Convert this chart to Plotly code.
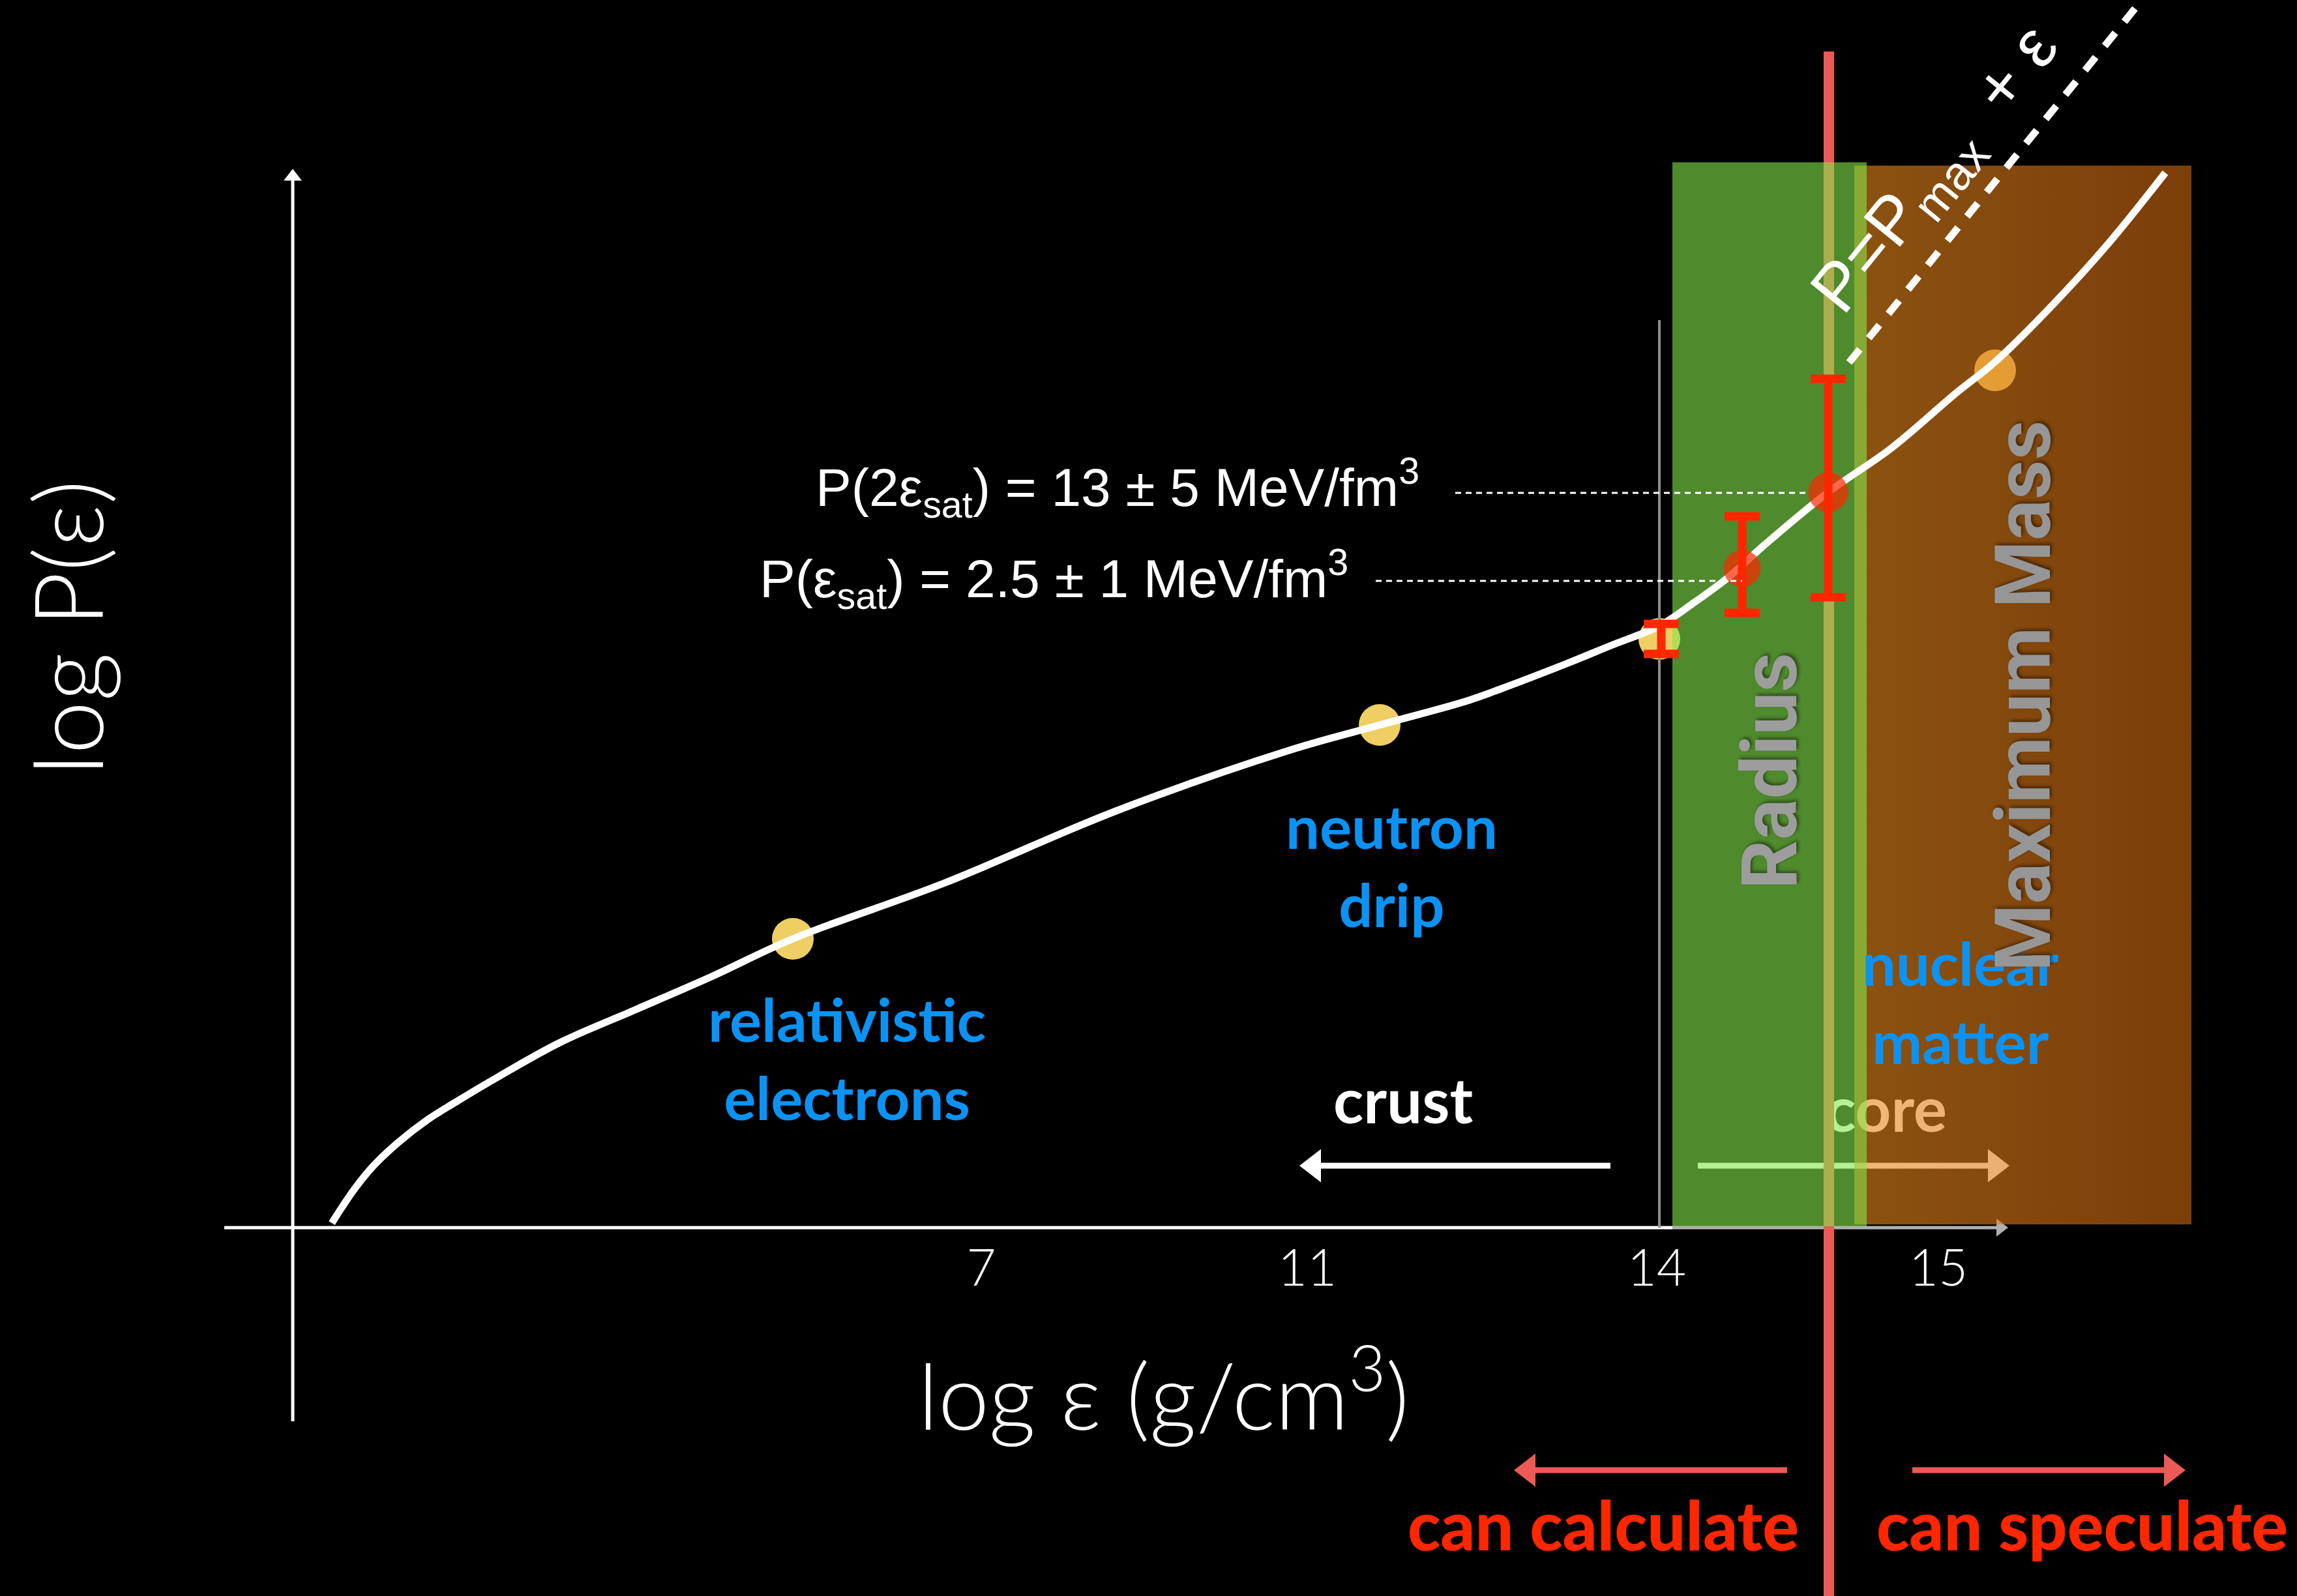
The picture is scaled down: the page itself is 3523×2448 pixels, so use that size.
import plotly.graph_objects as go

W, H = 3523, 2448

# ---- schematic data (canvas-scaled log-eps / log-P units) ----
curve_x = [509, 525, 545, 572, 610, 655, 698, 767, 859, 974, 1089, 1216, 1447, 1714, 1977, 2116,
           2247, 2301, 2400, 2471, 2545, 2600, 2649, 2706, 2804, 2900, 3000, 3060, 3146,
           3235, 3321]
curve_y = [572, 597, 626, 659, 695, 730, 757, 798, 849, 899, 949, 1008, 1093, 1205, 1297, 1336,
           1372, 1391, 1429, 1458, 1488, 1525, 1561, 1612, 1693, 1760, 1845, 1893, 1978,
           2076, 2183]

# transition points (yellow dots)
trans_x = [1216, 2116, 2545, 3060]
trans_y = [1008, 1336, 1468, 1880]

# constraints with error bars
con_x = [2548, 2672, 2804]
con_y = [1468, 1576, 1693]
con_up = [23, 80, 174]
con_dn = [23, 68, 161]
con_size = [0, 57, 61]

# x-axis ticks
tick_vals = [1505, 2005, 2541, 2973]
tick_text = ["7", "11", "14", "15"]

# regions
radius_band = [2565, 2863, 567, 2199]      # x0, x1, y0, y1
maxmass_band = [2844, 3361, 570, 2194]
boundary_x = 2805                          # calculate / speculate divide
boundary_top = 2369
crust_core_x = 2545
axis_y0 = 565
axis_x0, axis_x1 = 344, 3080
yaxis_x, yaxis_y0, yaxis_y1 = 449, 268, 2189

# guide lines
sat2_line = [2232, 2774, 1692]
sat_line = [2110, 2672, 1557]
causal_line_x = [2836, 3285]
causal_line_y = [1892, 2448]

# arrows: (tail, tip, y)
crust_arrow = [2470, 1993, 660]
core_arrow = [2604, 3082, 660]
calc_arrow = [2741, 2322, 193]
spec_arrow = [2933, 3352, 193]

WHITE = "white"
CHALK_RED = "#EB5A55"
CHALK_RED_IN_BAND = "rgb(173,174,79)"   # chalk red seen through the green band
RED = "#FF2600"
BLUE = "#0A93F5"

fig = go.Figure()


def add_line(xs, ys, color, width, dash=None):
    fig.add_trace(go.Scatter(x=xs, y=ys, mode="lines",
                             line=dict(color=color, width=width, dash=dash),
                             hoverinfo="skip", showlegend=False))


def add_arrow(tail, tip, y, color, width, size):
    d = 1 if tip > tail else -1
    head_c = tip - d * size / 2
    add_line([tail, head_c], [y, y], color, width)
    fig.add_trace(go.Scatter(x=[head_c], y=[y], mode="markers",
                             marker=dict(symbol="triangle-right" if d > 0 else "triangle-left",
                                         size=size, color=color, line=dict(width=0)),
                             hoverinfo="skip", showlegend=False))


# 1. yellow transition dots (under the bands)
fig.add_trace(go.Scatter(x=trans_x, y=trans_y, mode="markers",
                         marker=dict(size=64, color="#EFCF63", line=dict(width=0)),
                         hoverinfo="skip", showlegend=False))

# 2. "core" label and arrow (under the bands)
fig.add_trace(go.Scatter(x=[2893], y=[736], mode="text", text=["core"],
                         textfont=dict(family="Lato", size=96, color=WHITE, weight="bold"),
                         textposition="middle center", hoverinfo="skip", showlegend=False))
add_arrow(core_arrow[0], core_arrow[1], core_arrow[2], WHITE, 9, 44)

# 3. x axis
add_line([axis_x0, radius_band[0]], [axis_y0, axis_y0], WHITE, 5)
add_line([radius_band[0], axis_x1 - 12], [axis_y0, axis_y0], "#B0B0B0", 5)
fig.add_trace(go.Scatter(x=[axis_x1 - 12], y=[axis_y0], mode="markers",
                         marker=dict(symbol="triangle-right", size=24, color="#B0B0B0",
                                     line=dict(width=0)),
                         hoverinfo="skip", showlegend=False))

# 4. crust/core boundary line
add_line([crust_core_x, crust_core_x], [axis_y0, 1957], "#8E8E92", 4)

# 5. bands
x0, x1, y0, y1 = maxmass_band
fig.add_trace(go.Scatter(x=[x0, x1, x1, x0, x0], y=[y0, y0, y1, y1, y0], mode="none",
                         fill="toself",
                         fillgradient=dict(type="horizontal",
                                           colorscale=[[0, "rgba(232,137,28,0.6)"],
                                                       [1, "rgba(207,103,15,0.6)"]]),
                         hoverinfo="skip", showlegend=False))
x0, x1, y0, y1 = radius_band
fig.add_trace(go.Scatter(x=[x0, x1, x1, x0, x0], y=[y0, y0, y1, y1, y0], mode="none",
                         fill="toself", fillcolor="rgba(132,230,75,0.6)",
                         hoverinfo="skip", showlegend=False))

# 6. red vertical divide (tinted where it crosses the green band)
ebar_lo = con_y[2] - con_dn[2]
ebar_hi = con_y[2] + con_up[2]
add_line([boundary_x, boundary_x], [0, radius_band[2]], CHALK_RED, 16)
add_line([boundary_x, boundary_x], [radius_band[2], ebar_lo], CHALK_RED_IN_BAND, 16)
add_line([boundary_x, boundary_x], [ebar_hi, radius_band[3]], CHALK_RED_IN_BAND, 16)
add_line([boundary_x, boundary_x], [radius_band[3], boundary_top], CHALK_RED, 16)

# 7. EOS curve
fig.add_trace(go.Scatter(x=curve_x, y=curve_y, mode="lines",
                         line=dict(color=WHITE, width=11, shape="spline", smoothing=1.0),
                         hoverinfo="skip", showlegend=False))

# 8. constraints
fig.add_trace(go.Scatter(x=con_x, y=con_y, mode="markers",
                         marker=dict(size=con_size, color=RED, line=dict(width=0)),
                         error_y=dict(type="data", symmetric=False, array=con_up,
                                      arrayminus=con_dn, color=RED, thickness=13, width=27),
                         hoverinfo="skip", showlegend=False))

# 9. guide lines
add_line([sat2_line[0], sat2_line[1]], [sat2_line[2]] * 2, WHITE, 3, "9px,7px")
add_line([sat_line[0], sat_line[1]], [sat_line[2]] * 2, WHITE, 3, "9px,7px")
add_line(causal_line_x, causal_line_y, WHITE, 11, "26px,22px")

# 10. y axis + arrows on top
add_line([yaxis_x, yaxis_x], [yaxis_y0, yaxis_y1 - 10], WHITE, 5)
fig.add_trace(go.Scatter(x=[yaxis_x], y=[yaxis_y1 - 12], mode="markers",
                         marker=dict(symbol="triangle-up", size=24, color=WHITE,
                                     line=dict(width=0)),
                         hoverinfo="skip", showlegend=False))
add_arrow(crust_arrow[0], crust_arrow[1], crust_arrow[2], WHITE, 9, 44)
add_arrow(calc_arrow[0], calc_arrow[1], calc_arrow[2], CHALK_RED, 9, 44)
add_arrow(spec_arrow[0], spec_arrow[1], spec_arrow[2], CHALK_RED, 9, 44)

# ---- annotations ----
ann = []


def text(x, y, s, size, color, family="Lato", weight="normal", angle=0, shadow=None):
    f = dict(family=family, size=size, color=color, weight=weight)
    if shadow:
        f["shadow"] = shadow
    ann.append(dict(x=x, y=y, xref="x", yref="y", text=s, showarrow=False, font=f,
                    textangle=angle, xanchor="center", yanchor="middle"))


text(1299, 826, "relativistic<br>electrons", 92, BLUE, weight="bold")
text(2134, 1122, "neutron<br>drip", 92, BLUE, weight="bold")
text(2152, 763, "crust", 96, WHITE, weight="bold")
text(3006, 912, "nuclear<br>matter", 92, BLUE, weight="bold")
text(2459, 111, "can calculate", 104, RED, weight=900)
text(3193, 111, "can speculate", 104, RED, weight=900)

text(1714, 1700, "P(2ε<sub>sat</sub>) = 13 ± 5 MeV/fm<sup>3</sup>", 82, WHITE,
     family="Liberation Sans")
text(1616, 1560, "P(ε<sub>sat</sub>) = 2.5 ± 1 MeV/fm<sup>3</sup>", 82, WHITE,
     family="Liberation Sans")

text(2715, 1265, "Radius", 118, "#9D9D9D", family="Roboto", weight="bold", angle=-90,
     shadow="3px 3px 5px rgba(0,0,0,0.45)")
text(3104, 1380, "Maximum Mass", 118, "#969696", family="Roboto", weight="bold", angle=-90,
     shadow="3px 3px 5px rgba(0,0,0,0.45)")

text(2971, 2186, "P=P<sub>max</sub>  + ε", 104, WHITE, family="Liberation Sans", angle=-51)

text(1784, 318, "log ε (g/cm<sup>3</sup>)", 140, WHITE, weight=300)
text(101, 1485, "log P(ε)", 146, WHITE, weight=300, angle=-90)

fig.update_layout(
    width=W, height=H, autosize=False,
    margin=dict(l=0, r=0, t=0, b=0, pad=0),
    paper_bgcolor="black", plot_bgcolor="black",
    showlegend=False,
    annotations=ann,
    xaxis=dict(range=[0, W], showgrid=False, zeroline=False, showline=False, ticks="",
               tickvals=tick_vals, ticktext=tick_text, anchor="free",
               position=axis_y0 / H, ticklabelstandoff=10,
               tickfont=dict(family="Lato", size=78, color=WHITE, weight=300),
               fixedrange=True),
    yaxis=dict(range=[0, H], visible=False, showgrid=False, zeroline=False, fixedrange=True),
)

fig.write_html("out.html")
